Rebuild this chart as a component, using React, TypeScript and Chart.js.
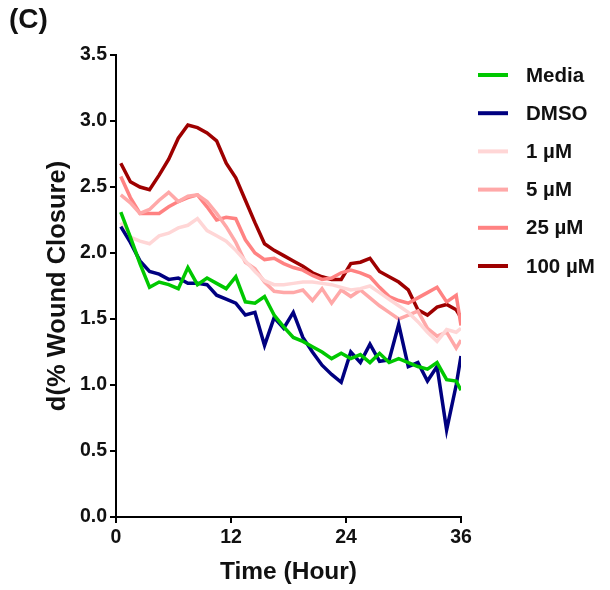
import React, { useEffect, useRef } from "react";
import { Chart, registerables } from "chart.js";

Chart.register(...registerables);

const times = [0.5, 1.5, 2.5, 3.5, 4.5, 5.5, 6.5, 7.5, 8.5, 9.5, 10.5, 11.5, 12.5, 13.5, 14.5, 15.5, 16.5, 17.5, 18.5, 19.5, 20.5, 21.5, 22.5, 23.5, 24.5, 25.5, 26.5, 27.5, 28.5, 29.5, 30.5, 31.5, 32.5, 33.5, 34.5, 35.5, 36];

const media = [2.31, 2.12, 1.92, 1.74, 1.78, 1.76, 1.73, 1.89, 1.76, 1.81, 1.77, 1.73, 1.82, 1.63, 1.62, 1.67, 1.53, 1.44, 1.36, 1.33, 1.29, 1.25, 1.2, 1.24, 1.2, 1.23, 1.17, 1.24, 1.17, 1.2, 1.17, 1.14, 1.12, 1.17, 1.04, 1.03, 0.96];
const dmso = [2.2, 2.08, 1.94, 1.86, 1.84, 1.8, 1.81, 1.77, 1.77, 1.76, 1.68, 1.65, 1.62, 1.53, 1.55, 1.3, 1.51, 1.43, 1.55, 1.36, 1.25, 1.15, 1.08, 1.02, 1.25, 1.17, 1.31, 1.18, 1.19, 1.46, 1.14, 1.17, 1.03, 1.14, 0.66, 1.0, 1.22];
const um1 = [2.23, 2.12, 2.09, 2.07, 2.13, 2.15, 2.19, 2.21, 2.26, 2.17, 2.13, 2.09, 2.02, 1.94, 1.86, 1.79, 1.76, 1.76, 1.77, 1.78, 1.78, 1.77, 1.76, 1.74, 1.72, 1.73, 1.75, 1.7, 1.65, 1.6, 1.55, 1.48, 1.4, 1.33, 1.42, 1.4, 1.43];
const um5 = [2.44, 2.38, 2.3, 2.33, 2.4, 2.46, 2.39, 2.43, 2.44, 2.39, 2.3, 2.2, 2.08, 1.93, 1.88, 1.78, 1.71, 1.7, 1.7, 1.72, 1.64, 1.73, 1.62, 1.72, 1.67, 1.72, 1.66, 1.6, 1.55, 1.5, 1.53, 1.56, 1.43, 1.37, 1.4, 1.28, 1.34];
const um25 = [2.58, 2.42, 2.3, 2.3, 2.3, 2.35, 2.39, 2.42, 2.44, 2.35, 2.25, 2.27, 2.26, 2.1, 2.0, 1.95, 1.96, 1.92, 1.89, 1.87, 1.83, 1.8, 1.81, 1.85, 1.87, 1.85, 1.82, 1.74, 1.67, 1.64, 1.62, 1.66, 1.7, 1.74, 1.63, 1.68, 1.45];
const um100 = [2.68, 2.54, 2.5, 2.48, 2.59, 2.71, 2.87, 2.97, 2.95, 2.91, 2.85, 2.68, 2.57, 2.4, 2.23, 2.07, 2.02, 1.98, 1.94, 1.9, 1.85, 1.82, 1.8, 1.8, 1.92, 1.93, 1.96, 1.86, 1.82, 1.78, 1.72, 1.57, 1.53, 1.59, 1.61, 1.57, 1.51];

const seriesLabels = ["Media", "DMSO", "1 µM", "5 µM", "25 µM", "100 µM"];
const seriesColors = ["#00C800", "#000080", "#FFD6D6", "#FFA8A8", "#FF8282", "#9E0000"];
const seriesValues = [media, dmso, um1, um5, um25, um100];

const xTicks = [0, 12, 24, 36];

const FONT = "'Liberation Sans', Arial, sans-serif";

const legendPlugin = {
  id: "customLegend",
  afterDraw(chart: any) {
    const ctx = chart.ctx;
    ctx.save();
    seriesLabels.forEach((lab, i) => {
      const y = 75 + i * 38.2;
      ctx.strokeStyle = seriesColors[i];
      ctx.lineWidth = 4;
      ctx.beginPath();
      ctx.moveTo(478, y);
      ctx.lineTo(508, y);
      ctx.stroke();
      ctx.fillStyle = "#111";
      ctx.font = `bold 20.5px ${FONT}`;
      ctx.textBaseline = "middle";
      ctx.textAlign = "left";
      ctx.fillText(lab, 526, y + 1);
    });
    ctx.font = `bold 28px ${FONT}`;
    ctx.textBaseline = "middle";
    ctx.fillText("(C)", 9, 20);
    ctx.restore();
  },
};

export default function App() {
  const ref = useRef<HTMLCanvasElement>(null);
  useEffect(() => {
    if (!ref.current) return;
    const chart = new Chart(ref.current, {
      type: "line",
      data: {
        datasets: seriesValues.map((vals, i) => ({
          label: seriesLabels[i],
          data: times.map((t, j) => ({ x: t, y: vals[j] })),
          borderColor: seriesColors[i],
          backgroundColor: seriesColors[i],
          borderWidth: 3.5,
          pointRadius: 0,
          tension: 0,
          fill: false,
        })),
      },
      options: {
        responsive: false,
        animation: false,
        layout: { padding: { left: 0, top: 55, right: 149, bottom: 0 } },
        plugins: { legend: { display: false }, tooltip: { enabled: false } },
        scales: {
          x: {
            type: "linear",
            min: 0,
            max: 36,
            afterBuildTicks: (scale: any) => {
              scale.ticks = xTicks.map((v) => ({ value: v }));
            },
            afterFit: (scale: any) => {
              scale.height = 73;
            },
            ticks: {
              color: "#111",
              font: { family: FONT, size: 19.5, weight: "bold" },
              padding: 3,
              maxRotation: 0,
              callback: (v: any) => String(v),
            },
            grid: { drawOnChartArea: false, drawTicks: true, tickLength: 6, color: "#000", lineWidth: 2 },
            border: { display: true, color: "#000", width: 2 },
            title: {
              display: true,
              text: "Time (Hour)",
              color: "#111",
              font: { family: FONT, size: 24.5, weight: "bold" },
              padding: { top: 0, bottom: 3 },
            },
          },
          y: {
            min: 0,
            max: 3.5,
            ticks: {
              stepSize: 0.5,
              color: "#111",
              font: { family: FONT, size: 19.5, weight: "bold" },
              padding: 3,
              callback: (v: any) => Number(v).toFixed(1),
            },
            afterFit: (scale: any) => {
              scale.width = 116;
            },
            grid: { drawOnChartArea: false, drawTicks: true, tickLength: 6, color: "#000", lineWidth: 2 },
            border: { display: true, color: "#000", width: 2 },
            title: {
              display: true,
              text: "d(% Wound Closure)",
              color: "#111",
              font: { family: FONT, size: 25.5, weight: "bold" },
              padding: { top: 43, bottom: 0 },
            },
          },
        },
      },
      plugins: [legendPlugin],
    });
    return () => chart.destroy();
  }, []);
  return (
    <div style={{ position: "absolute", left: 0, top: 0, width: 610, height: 590, background: "#fff" }}>
      <canvas ref={ref} width={610} height={590} />
    </div>
  );
}
